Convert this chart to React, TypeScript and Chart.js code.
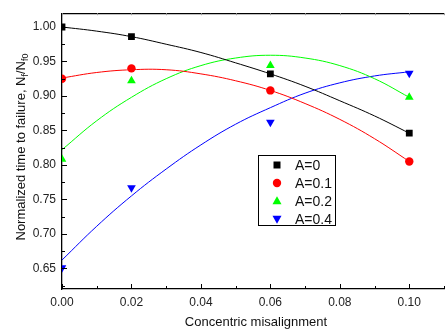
import React, { useEffect, useRef } from "react";
import { Chart, registerables } from "chart.js";

Chart.register(...registerables);

// Measured data points
const pointX = [0, 0.02, 0.06, 0.1];
const a0Points = [1.0, 0.986, 0.932, 0.846];
const a01Points = [0.925, 0.94, 0.908, 0.805];
const a02Points = [0.808, 0.922, 0.944, 0.898];
const a04Points = [0.651, 0.767, 0.862, 0.933];

// Fitted curves
const curveX = [0, 0.01, 0.02, 0.03, 0.04, 0.05, 0.06, 0.07, 0.08, 0.09, 0.1];
const a0Curve = [1.0, 0.994, 0.986, 0.975, 0.963, 0.948, 0.932, 0.914, 0.893, 0.871, 0.846];
const a01Curve = [0.926, 0.934, 0.938, 0.938, 0.932, 0.922, 0.908, 0.889, 0.866, 0.838, 0.805];
const a02Curve = [0.822, 0.864, 0.898, 0.925, 0.944, 0.955, 0.959, 0.955, 0.944, 0.925, 0.898];
const a04Curve = [0.662, 0.711, 0.755, 0.794, 0.829, 0.859, 0.883, 0.904, 0.919, 0.929, 0.935];

const seriesNames = ["A=0", "A=0.1", "A=0.2", "A=0.4"];
const seriesColors = ["#000000", "#ff0000", "#00ff00", "#0000ff"];
const seriesStyles = ["rect", "circle", "triangle", "triangleDown"];

const xTicks = [0, 0.02, 0.04, 0.06, 0.08, 0.1];
const yTicks = [0.65, 0.7, 0.75, 0.8, 0.85, 0.9, 0.95, 1.0];

const xTitle = "Concentric misalignment";
const yTitleMain = "Normalized time to failure, N";
const yTitleSub1 = "f";
const yTitleMid = "/N";
const yTitleSub2 = "f0";

const FONT = '"Liberation Sans", Arial, sans-serif';

function drawMarker(ctx: CanvasRenderingContext2D, style: string, x: number, y: number, color: string) {
  ctx.save();
  ctx.fillStyle = color;
  ctx.beginPath();
  if (style === "rect") {
    ctx.rect(x - 3.5, y - 3.5, 7, 7);
  } else if (style === "circle") {
    ctx.arc(x, y, 4.2, 0, Math.PI * 2);
  } else if (style === "triangle") {
    ctx.moveTo(x, y - 4.8);
    ctx.lineTo(x + 4.5, y + 3.2);
    ctx.lineTo(x - 4.5, y + 3.2);
    ctx.closePath();
  } else {
    ctx.moveTo(x, y + 4.8);
    ctx.lineTo(x + 4.5, y - 3.2);
    ctx.lineTo(x - 4.5, y - 3.2);
    ctx.closePath();
  }
  ctx.fill();
  ctx.restore();
}

const framePlugin = {
  id: "frame",
  afterDraw(chart: any) {
    const { ctx, chartArea: a, scales } = chart;
    const xs = scales.x;
    const ys = scales.y;
    ctx.save();
    ctx.strokeStyle = "#000";
    ctx.lineWidth = 1.3;
    // top border
    ctx.beginPath();
    ctx.moveTo(a.left, a.top + 0.5);
    ctx.lineTo(a.right, a.top + 0.5);
    ctx.stroke();
    ctx.lineWidth = 1;
    // x ticks (inward), bottom and top
    for (let i = 0; i <= 11; i++) {
      const v = i * 0.01;
      const px = Math.round(xs.getPixelForValue(v)) + 0.5;
      const len = i % 2 === 0 ? 5 : 3;
      ctx.beginPath();
      ctx.moveTo(px, a.bottom);
      ctx.lineTo(px, a.bottom - len);
      ctx.stroke();
      ctx.strokeStyle = "#999";
      ctx.beginPath();
      ctx.moveTo(px, a.top);
      ctx.lineTo(px, a.top + 2);
      ctx.stroke();
      ctx.strokeStyle = "#000";
    }
    // y ticks (inward)
    for (let i = 0; i <= 16; i++) {
      const v = 0.625 + i * 0.025;
      if (v > 1.02) break;
      const py = Math.round(ys.getPixelForValue(v)) + 0.5;
      const major = i % 2 === 1;
      ctx.beginPath();
      ctx.moveTo(a.left, py);
      ctx.lineTo(a.left + (major ? 5 : 3), py);
      ctx.stroke();
    }
    // x title
    ctx.fillStyle = "#111";
    ctx.font = `13px ${FONT}`;
    ctx.textAlign = "center";
    ctx.textBaseline = "middle";
    ctx.fillText(xTitle, 256, 322);
    // y title with subscripts
    const bigFont = `13px ${FONT}`;
    const smallFont = `9px ${FONT}`;
    ctx.font = bigFont;
    const w1 = ctx.measureText(yTitleMain).width;
    const w3 = ctx.measureText(yTitleMid).width;
    ctx.font = smallFont;
    const w2 = ctx.measureText(yTitleSub1).width;
    const w4 = ctx.measureText(yTitleSub2).width;
    const total = w1 + w2 + w3 + w4;
    ctx.save();
    ctx.translate(25, 147);
    ctx.rotate(-Math.PI / 2);
    ctx.textAlign = "left";
    ctx.textBaseline = "alphabetic";
    let cx = -total / 2;
    ctx.font = bigFont;
    ctx.fillText(yTitleMain, cx, 0);
    cx += w1;
    ctx.font = smallFont;
    ctx.fillText(yTitleSub1, cx, 3);
    cx += w2;
    ctx.font = bigFont;
    ctx.fillText(yTitleMid, cx, 0);
    cx += w3;
    ctx.font = smallFont;
    ctx.fillText(yTitleSub2, cx, 3);
    ctx.restore();
    // legend
    ctx.fillStyle = "#fff";
    ctx.fillRect(258.5, 155.5, 77, 70);
    ctx.strokeStyle = "#000";
    ctx.lineWidth = 1;
    ctx.strokeRect(258.5, 155.5, 77, 70);
    ctx.font = `14px ${FONT}`;
    ctx.textAlign = "left";
    ctx.textBaseline = "middle";
    const rows = [165, 183, 201, 219];
    seriesNames.forEach((name, i) => {
      drawMarker(ctx, seriesStyles[i], 277, rows[i], seriesColors[i]);
      ctx.fillStyle = "#111";
      ctx.fillText(name, 295, rows[i] + 1);
    });
    ctx.restore();
  },
};

export default function App() {
  const ref = useRef<HTMLCanvasElement | null>(null);
  useEffect(() => {
    if (!ref.current) return;
    const pointSets = [a0Points, a01Points, a02Points, a04Points];
    const curveSets = [a0Curve, a01Curve, a02Curve, a04Curve];
    const datasets: any[] = [];
    curveSets.forEach((c, i) => {
      datasets.push({
        label: seriesNames[i] + " fit",
        data: curveX.map((x, j) => ({ x, y: c[j] })),
        showLine: true,
        borderColor: seriesColors[i],
        borderWidth: 1,
        pointRadius: 0,
        tension: 0.4,
        fill: false,
      });
    });
    pointSets.forEach((p, i) => {
      const st = seriesStyles[i];
      datasets.push({
        label: seriesNames[i],
        data: pointX.map((x, j) => ({ x, y: p[j] })),
        showLine: false,
        backgroundColor: seriesColors[i],
        borderColor: seriesColors[i],
        borderWidth: 0,
        pointStyle: st === "triangleDown" ? "triangle" : st,
        rotation: st === "triangleDown" ? 180 : 0,
        pointRadius: st === "rect" ? 4.8 : st === "circle" ? 4.2 : 5,
      });
    });
    const chart = new Chart(ref.current, {
      type: "scatter",
      data: { datasets },
      options: {
        animation: false,
        responsive: false,
        layout: { padding: { left: 0, right: 0, top: 4, bottom: 0 } },
        plugins: { legend: { display: false }, tooltip: { enabled: false } },
        scales: {
          x: {
            type: "linear",
            min: 0,
            max: 0.11,
            afterFit: (s: any) => {
              s.height = 43;
            },
            afterBuildTicks: (s: any) => {
              s.ticks = xTicks.map((v) => ({ value: v }));
            },
            grid: { display: false, drawTicks: false },
            border: { display: true, color: "#000", width: 1.3 },
            ticks: {
              padding: 6,
              color: "#222",
              font: { family: FONT, size: 12 },
              callback: (v: any) => Number(v).toFixed(2),
            },
          },
          y: {
            type: "linear",
            min: 0.62,
            max: 1.02,
            afterFit: (s: any) => {
              s.width = 62;
            },
            afterBuildTicks: (s: any) => {
              s.ticks = yTicks.map((v) => ({ value: v }));
            },
            grid: { display: false, drawTicks: false },
            border: { display: true, color: "#000", width: 1.3 },
            ticks: {
              padding: 6,
              color: "#222",
              font: { family: FONT, size: 12 },
              callback: (v: any) => Number(v).toFixed(2),
            },
          },
        },
      },
      plugins: [framePlugin],
    });
    return () => chart.destroy();
  }, []);
  return (
    <div style={{ position: "absolute", left: 0, top: 0, width: 448, height: 332, overflow: "hidden", background: "#fff" }}>
      <canvas ref={ref} width={449} height={332} style={{ width: 449, height: 332, display: "block" }} />
    </div>
  );
}
